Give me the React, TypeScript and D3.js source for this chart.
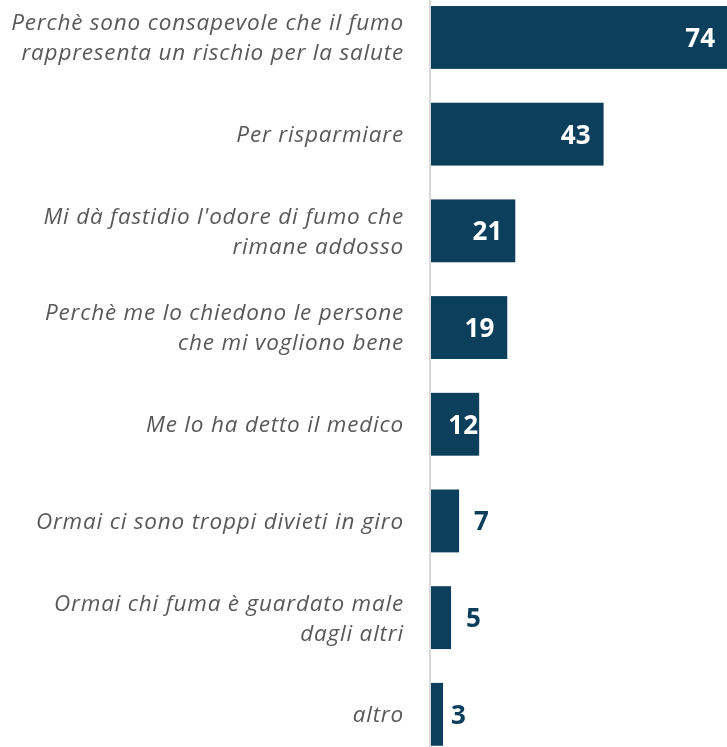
import React, { useEffect, useRef } from 'react';
import * as d3 from 'd3';

const categories = [
  ['Perchè sono consapevole che il fumo', 'rappresenta un rischio per la salute'],
  ['Per risparmiare'],
  ["Mi dà fastidio l'odore di fumo che", 'rimane addosso'],
  ['Perchè me lo chiedono le persone', 'che mi vogliono bene'],
  ['Me lo ha detto il medico'],
  ['Ormai ci sono troppi divieti in giro'],
  ['Ormai chi fuma è guardato male', 'dagli altri'],
  ['altro'],
];
const values = [74, 43, 21, 19, 12, 7, 5, 3];

const App = () => {
  const svgRef = useRef<SVGSVGElement>(null);

  useEffect(() => {
    const width = 727;
    const height = 747;
    const x0 = 431;
    const svg = d3.select(svgRef.current).attr('width', width).attr('height', height);
    svg.selectAll('*').remove();

    const idx = values.map((_, i) => String(i));
    const y = d3.scaleBand().domain(idx).range([-13.3, 765.1]).paddingInner(0.35).paddingOuter(0.2);
    const x = d3.scaleLinear().domain([0, 74]).range([x0, 728]);
    const navy = '#0b3f5c';

    svg.append('line')
      .attr('x1', 430).attr('x2', 430).attr('y1', 0).attr('y2', height)
      .attr('stroke', '#d9d9d9').attr('stroke-width', 2);

    const g = svg.selectAll('.row').data(values).enter().append('g');

    g.append('rect')
      .attr('x', x0)
      .attr('y', (d, i) => y(String(i))!)
      .attr('width', d => x(d) - x0)
      .attr('height', y.bandwidth())
      .attr('fill', navy);

    g.append('text')
      .attr('x', d => d >= 10 ? Math.max(x(d) - 13, x0 + 47) : x(d) + (d < 5 ? 8 : 15))
      .attr('y', (d, i) => y(String(i))! + y.bandwidth() / 2)
      .attr('dy', '0.36em')
      .attr('text-anchor', d => d >= 10 ? 'end' : 'start')
      .style('font-family', '"Open Sans", sans-serif')
      .style('font-weight', 'bold')
      .style('font-size', '26px')
      .attr('fill', d => d >= 10 ? '#ffffff' : navy)
      .text(d => d);

    // category labels, one or two lines
    categories.forEach((lines, i) => {
      const cy = y(String(i))! + y.bandwidth() / 2;
      const t = svg.append('text')
        .attr('text-anchor', 'end')
        .style('font-family', '"Open Sans", sans-serif')
        .style('font-style', 'italic')
        .style('font-size', '22.5px')
        .style('letter-spacing', '0.8px')
        .attr('fill', '#595959');
      lines.forEach((l, j) => {
        t.append('tspan')
          .attr('x', 404)
          .attr('y', cy + (j - (lines.length - 1) / 2) * 30)
          .attr('dy', '0.35em')
          .text(l);
      });
    });
  }, []);

  return (
    <div style={{ position: 'fixed', left: 0, top: 0, width: 727, height: 747, overflow: 'hidden' }}>
      <svg ref={svgRef} style={{ display: 'block' }}></svg>
    </div>
  );
};

export default App;
